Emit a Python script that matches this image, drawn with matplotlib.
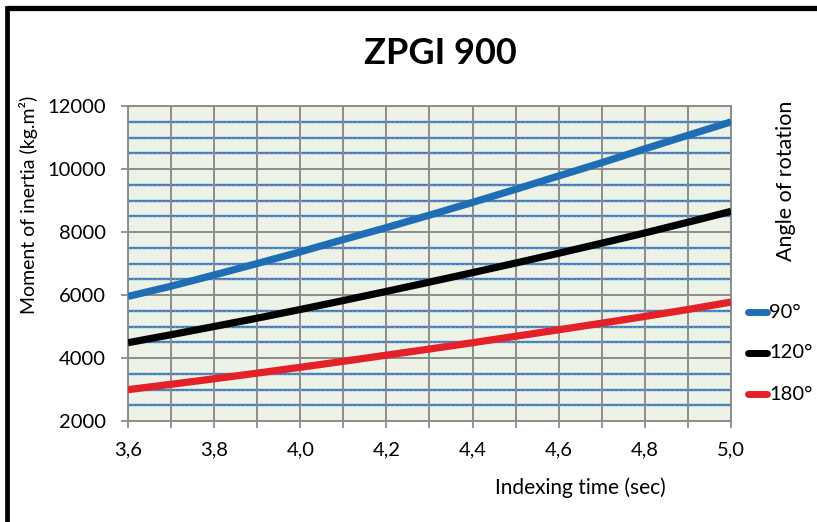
import matplotlib
matplotlib.use("Agg")
import matplotlib.pyplot as plt
from matplotlib.lines import Line2D
import numpy as np

plt.rcParams['font.family'] = ['Lato', 'DejaVu Sans']

time_s = [3.6, 3.7, 3.8, 3.9, 4.0, 4.1, 4.2, 4.3, 4.4, 4.5, 4.6, 4.7, 4.8, 4.9, 5.0]
inertia_90 = [5955, 6280, 6635, 7000, 7370, 7760, 8140, 8535, 8940, 9355, 9780, 10200, 10640, 11070, 11495]
inertia_120 = [4485, 4740, 5000, 5265, 5540, 5825, 6115, 6410, 6710, 7015, 7325, 7645, 7970, 8310, 8655]
inertia_180 = [2995, 3165, 3340, 3520, 3705, 3895, 4090, 4285, 4485, 4690, 4895, 5105, 5320, 5540, 5775]
series_labels = ['90°', '120°', '180°']
series_colors = ['#1F6DB5', '#000000', '#E42128']
x_ticks = [3.6, 3.8, 4.0, 4.2, 4.4, 4.6, 4.8, 5.0]
x_tick_labels = ['3,6', '3,8', '4,0', '4,2', '4,4', '4,6', '4,8', '5,0']
y_ticks = [2000, 4000, 6000, 8000, 10000, 12000]

W, H = 817, 522
fig = plt.figure(figsize=(W/100, H/100), dpi=100)
ax = fig.add_axes([128/W, 1-421/H, (731-128)/W, (421-106)/H])
ax.set_facecolor('#ECF2E6')
ax.set_xlim(3.6, 5.0)
ax.set_ylim(2000, 12000)

grid_gray = '#8C8C8C'
for v in np.arange(2500, 12000, 500):
    if v % 2000 != 0:
        ax.axhline(v, color='#4A7EBB', lw=1.7, zorder=1)
        ax.axhline(v, color='white', lw=0.6, ls=(0, (0.6, 5)), zorder=1.1, alpha=0.8)
for v in y_ticks:
    ax.axhline(v, color=grid_gray, lw=1.4, zorder=1.5)
for t in np.arange(3.6, 5.001, 0.1):
    ax.axvline(t, color=grid_gray, lw=1.4, zorder=1.5)

for ys, c, lab in zip([inertia_90, inertia_120, inertia_180], series_colors, series_labels):
    ax.plot(time_s, ys, color=c, lw=5.2, label=lab, zorder=3,
            solid_capstyle='butt', solid_joinstyle='round')

ax.set_xticks(x_ticks)
ax.set_xticks(np.arange(3.6, 5.001, 0.1), minor=True)
ax.set_xticklabels(x_tick_labels, fontsize=14.5)
ax.set_yticks(y_ticks)
ax.set_yticklabels([str(v) for v in y_ticks], fontsize=14.5)
ax.tick_params(axis='both', which='both', direction='out', length=5, width=1.3, color=grid_gray)
ax.tick_params(axis='x', which='major', pad=10)
ax.tick_params(axis='y', which='major', pad=11)
for s in ax.spines.values():
    s.set_color(grid_gray)
    s.set_linewidth(1.4)

fig.text(580/W, 1-488/H, 'Indexing time (sec)', fontsize=15, ha='center', va='center')
fig.text(29/W, 1-205/H, 'Moment of inertia (kg.m²)', fontsize=14, rotation=90, ha='center', va='center')
fig.text(440/W, 1-53/H, 'ZPGI 900', fontsize=26, fontweight='bold', ha='center', va='center')
fig.text(786/W, 1-181/H, 'Angle of rotation', fontsize=15.5, rotation=90, ha='center', va='center')

# legend
for i, (c, lab) in enumerate(zip(series_colors, series_labels)):
    yy = 1 - (312 + 41*i)/H
    fig.add_artist(Line2D([748/W, 767/W], [yy, yy], color=c, lw=5, transform=fig.transFigure,
                          solid_capstyle='round'))
    fig.text(769/W, yy, lab, fontsize=14.5, ha='left', va='center')

# outer frame (left and top edges only visible)
fig.add_artist(Line2D([6.7/W, 6.7/W], [0, 1-8/H], color='black', lw=3.4, transform=fig.transFigure,
                      solid_capstyle='projecting'))
fig.add_artist(Line2D([6.7/W, 1], [1-8/H, 1-8/H], color='black', lw=3.8, transform=fig.transFigure,
                      solid_capstyle='butt'))

fig.savefig('out.png', dpi=100)
